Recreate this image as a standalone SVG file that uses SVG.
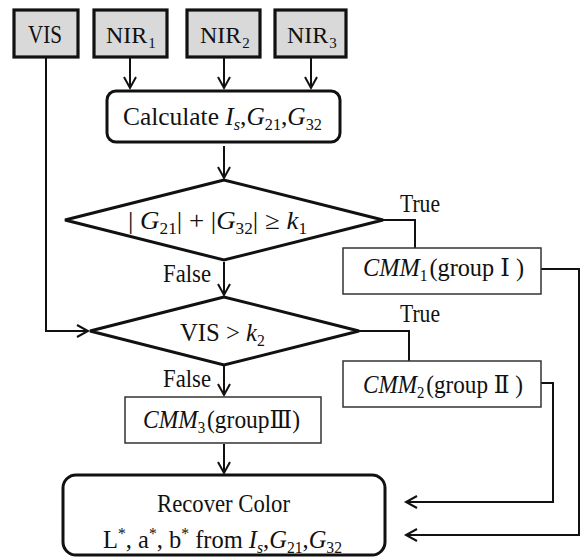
<svg xmlns="http://www.w3.org/2000/svg" width="584" height="558" viewBox="0 0 584 558">
<style>
  text { font-family: "Liberation Serif", "DejaVu Serif", "Noto Sans CJK SC", serif; font-size: 25px; fill: #111; }
  .i { font-style: italic; }
  .sub { font-size: 16px; }
  .nir { font-size: 24px; }
  .nsub { font-size: 15px; }
  .src { fill: #d9d9d9; stroke: #111; stroke-width: 3.2; }
  .thick { fill: #fff; stroke: #111; stroke-width: 3; }
  .thin { fill: #fff; stroke: #333; stroke-width: 1.5; }
  .conn { fill: none; stroke: #111; stroke-width: 2; }
</style>
<defs>
  <marker id="arr" markerUnits="userSpaceOnUse" markerWidth="16" markerHeight="16" refX="12" refY="7" orient="auto">
    <path d="M1,1 L12,7 L1,13" fill="none" stroke="#111" stroke-width="2"/>
  </marker>
</defs>

<g id="connectors">
  <line class="conn" x1="130" y1="58" x2="130" y2="88" marker-end="url(#arr)"/>
  <line class="conn" x1="224" y1="58" x2="224" y2="88" marker-end="url(#arr)"/>
  <line class="conn" x1="311" y1="58" x2="311" y2="88" marker-end="url(#arr)"/>
  <line class="conn" x1="224" y1="146" x2="224" y2="178" marker-end="url(#arr)"/>
  <line class="conn" x1="224" y1="262" x2="224" y2="295" marker-end="url(#arr)"/>
  <polyline class="conn" points="46,57 46,331 88,331" marker-end="url(#arr)"/>
  <polyline class="conn" points="383,220 415,220 415,248"/>
  <polyline class="conn" points="359,331 409,331 409,361"/>
  <line class="conn" x1="224" y1="366" x2="224" y2="395" marker-end="url(#arr)"/>
  <line class="conn" x1="224" y1="444" x2="224" y2="473" marker-end="url(#arr)"/>
  <polyline class="conn" points="541,269 579,269 579,535 406,535" marker-end="url(#arr)"/>
  <polyline class="conn" points="541,383 553,383 553,502 406,502" marker-end="url(#arr)"/>
</g>

<g id="vis">
  <rect class="src" x="14" y="10" width="64" height="47"/>
  <text x="28" y="43" textLength="34" lengthAdjust="spacingAndGlyphs">VIS</text>
</g>
<g id="nir1">
  <rect class="src" x="94" y="10" width="73" height="47"/>
  <text class="nir" x="106" y="43">NIR<tspan class="nsub" dx="1" dy="5">1</tspan></text>
</g>
<g id="nir2">
  <rect class="src" x="187" y="10" width="73" height="47"/>
  <text class="nir" x="200" y="43">NIR<tspan class="nsub" dx="1" dy="5">2</tspan></text>
</g>
<g id="nir3">
  <rect class="src" x="275" y="10" width="71" height="47"/>
  <text class="nir" x="287" y="43">NIR<tspan class="nsub" dx="1" dy="5">3</tspan></text>
</g>

<g id="calculate">
  <rect class="thick" x="107" y="91" width="233" height="51" rx="9"/>
  <text x="123" y="125" textLength="199" lengthAdjust="spacingAndGlyphs">Calculate <tspan class="i">I</tspan><tspan class="sub i" dy="5">s</tspan><tspan dy="-5">,</tspan><tspan class="i">G</tspan><tspan class="sub" dy="5">21</tspan><tspan dy="-5">,</tspan><tspan class="i">G</tspan><tspan class="sub" dy="5">32</tspan></text>
</g>

<g id="decision1">
  <polygon class="thick" points="224,180 65,220 224,260 383,220"/>
  <text x="128" y="229" textLength="179" lengthAdjust="spacingAndGlyphs">| <tspan class="i">G</tspan><tspan class="sub" dy="5">21</tspan><tspan dy="-5">| + |</tspan><tspan class="i">G</tspan><tspan class="sub" dy="5">32</tspan><tspan dy="-5">| ≥ </tspan><tspan class="i">k</tspan><tspan class="sub" dy="5">1</tspan></text>
  <text x="400" y="212" textLength="40" lengthAdjust="spacingAndGlyphs">True</text>
  <text x="163" y="282" textLength="48" lengthAdjust="spacingAndGlyphs">False</text>
</g>

<g id="cmm1">
  <rect class="thin" x="343" y="248" width="198" height="46"/>
  <text x="363" y="276" textLength="161" lengthAdjust="spacingAndGlyphs"><tspan class="i">CMM</tspan><tspan class="sub" dy="5">1</tspan><tspan dx="2" dy="-5">(group Ⅰ )</tspan></text>
</g>

<g id="decision2">
  <polygon class="thick" points="224,297 90,331 224,365 359,331"/>
  <text x="180" y="341" textLength="85" lengthAdjust="spacingAndGlyphs">VIS &gt; <tspan class="i">k</tspan><tspan class="sub" dy="5">2</tspan></text>
  <text x="400" y="322" textLength="40" lengthAdjust="spacingAndGlyphs">True</text>
  <text x="163" y="387" textLength="48" lengthAdjust="spacingAndGlyphs">False</text>
</g>

<g id="cmm2">
  <rect class="thin" x="343" y="361" width="198" height="46"/>
  <text x="363" y="393" textLength="160" lengthAdjust="spacingAndGlyphs"><tspan class="i">CMM</tspan><tspan class="sub" dy="5">2</tspan><tspan dx="2" dy="-5">(group Ⅱ )</tspan></text>
</g>

<g id="cmm3">
  <rect class="thin" x="125" y="397" width="196" height="46"/>
  <text x="143" y="428" textLength="157" lengthAdjust="spacingAndGlyphs"><tspan class="i">CMM</tspan><tspan class="sub" dy="5">3</tspan><tspan dx="2" dy="-5">(groupⅢ)</tspan></text>
</g>

<g id="recover">
  <rect class="thick" x="63" y="475" width="322" height="80" rx="13"/>
  <text x="157" y="512" textLength="133" lengthAdjust="spacingAndGlyphs">Recover Color</text>
  <text x="103" y="548" textLength="239" lengthAdjust="spacingAndGlyphs">L<tspan class="sub" dy="-9">*</tspan><tspan dy="9">, a</tspan><tspan class="sub" dy="-9">*</tspan><tspan dy="9">, b</tspan><tspan class="sub" dy="-9">*</tspan><tspan dy="9"> from </tspan><tspan class="i">I</tspan><tspan class="sub i" dy="5">s</tspan><tspan dy="-5">,</tspan><tspan class="i">G</tspan><tspan class="sub" dy="5">21</tspan><tspan dy="-5">,</tspan><tspan class="i">G</tspan><tspan class="sub" dy="5">32</tspan></text>
</g>
</svg>
